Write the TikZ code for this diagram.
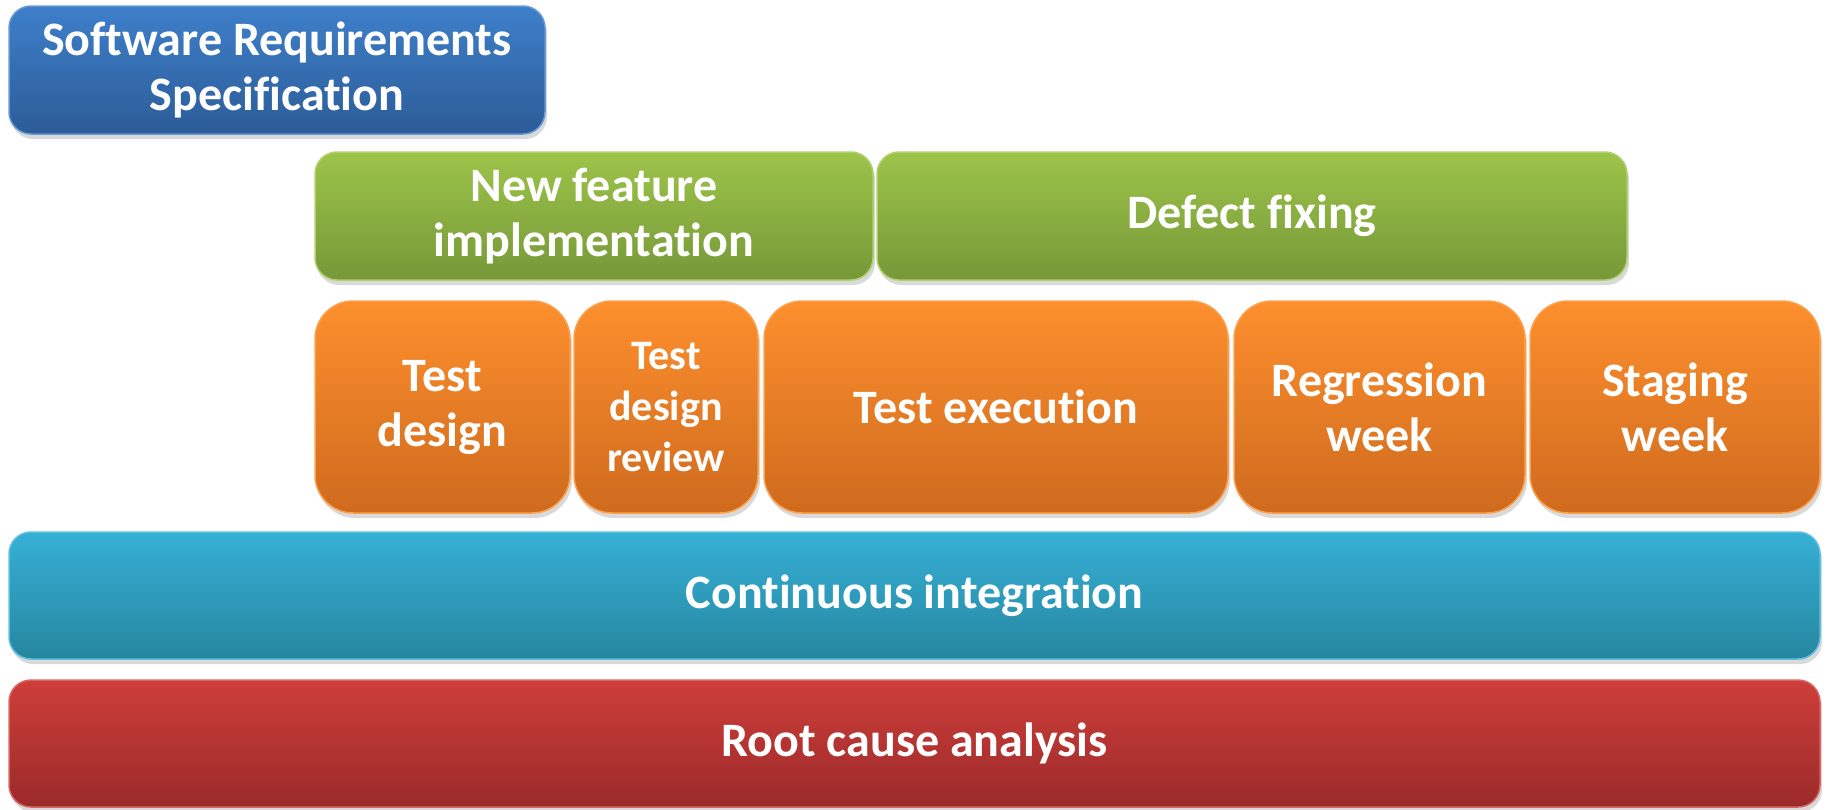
\documentclass[tikz,border=0pt]{standalone}
\usepackage{fontspec}
\setmainfont{Carlito}[Ligatures=NoCommon]
\usetikzlibrary{shapes,shadows}

\definecolor{srsTop}{RGB}{62,127,202}
\definecolor{srsBot}{RGB}{44,92,152}
\definecolor{featTop}{RGB}{157,196,74}
\definecolor{featBot}{RGB}{118,152,56}
\definecolor{testTop}{RGB}{253,143,45}
\definecolor{testBot}{RGB}{207,106,30}
\definecolor{ciTop}{RGB}{54,176,214}
\definecolor{ciBot}{RGB}{38,134,160}
\definecolor{rcaTop}{RGB}{206,62,58}
\definecolor{rcaBot}{RGB}{155,42,42}

\tikzset{
  box/.style={rectangle, rounded corners=22pt, line width=1.5pt, text=white,
    align=center, inner sep=0pt,
    font=\bfseries\fontsize{48}{55}\selectfont,
    drop shadow={opacity=0.3, shadow xshift=2pt, shadow yshift=-5pt}},
  srsbox/.style={box, draw=srsTop!80!white, top color=srsTop, bottom color=srsBot},
  featbox/.style={box, draw=featTop!80!white, top color=featTop, bottom color=featBot},
  testbox/.style={box, rounded corners=38pt, draw=testTop!85!white, top color=testTop, bottom color=testBot,
    minimum height=212pt},
  cibox/.style={box, draw=ciTop!80!white, top color=ciTop, bottom color=ciBot},
  rcabox/.style={box, draw=rcaTop!80!white, top color=rcaTop, bottom color=rcaBot},
}

\begin{document}
\begin{tikzpicture}[x=1pt, y=-1pt]
    \useasboundingbox (0,0) rectangle (1829,809);

    % Requirements
    \node[srsbox, minimum width=536pt, minimum height=128pt] (srs) at (277,70)
        {Software Requirements\\Specification};

    % Development
    \node[featbox, minimum width=558pt, minimum height=128pt] (feat) at (594,216)
        {New feature\\implementation};
    \node[featbox, minimum width=750pt, minimum height=128pt] (defect) at (1252,216)
        {Defect fixing};

    % Testing activities
    \foreach \nm/\xl/\xr/\txt in {td/315/570/{Test\\design},
                                  te/764/1228/{Test execution},
                                  rw/1234/1525/{Regression\\week},
                                  sw/1530/1820/{Staging\\week}} {
        \pgfmathsetmacro{\w}{\xr-\xl}
        \pgfmathsetmacro{\cx}{(\xl+\xr)/2}
        \node[testbox, minimum width=\w pt] (\nm) at (\cx,407) {\txt};
    }
    \node[testbox, minimum width=184pt, font=\bfseries\fontsize{42}{51}\selectfont] (tdr) at (666,407)
        {Test\\design\\review};

    % Continuous processes
    \node[cibox, minimum width=1811pt, minimum height=127pt] (ci) at (914.5,595.5)
        {Continuous integration};
    \node[rcabox, minimum width=1811pt, minimum height=127pt] (rca) at (914.5,743.5)
        {Root cause analysis};
\end{tikzpicture}
\end{document}
